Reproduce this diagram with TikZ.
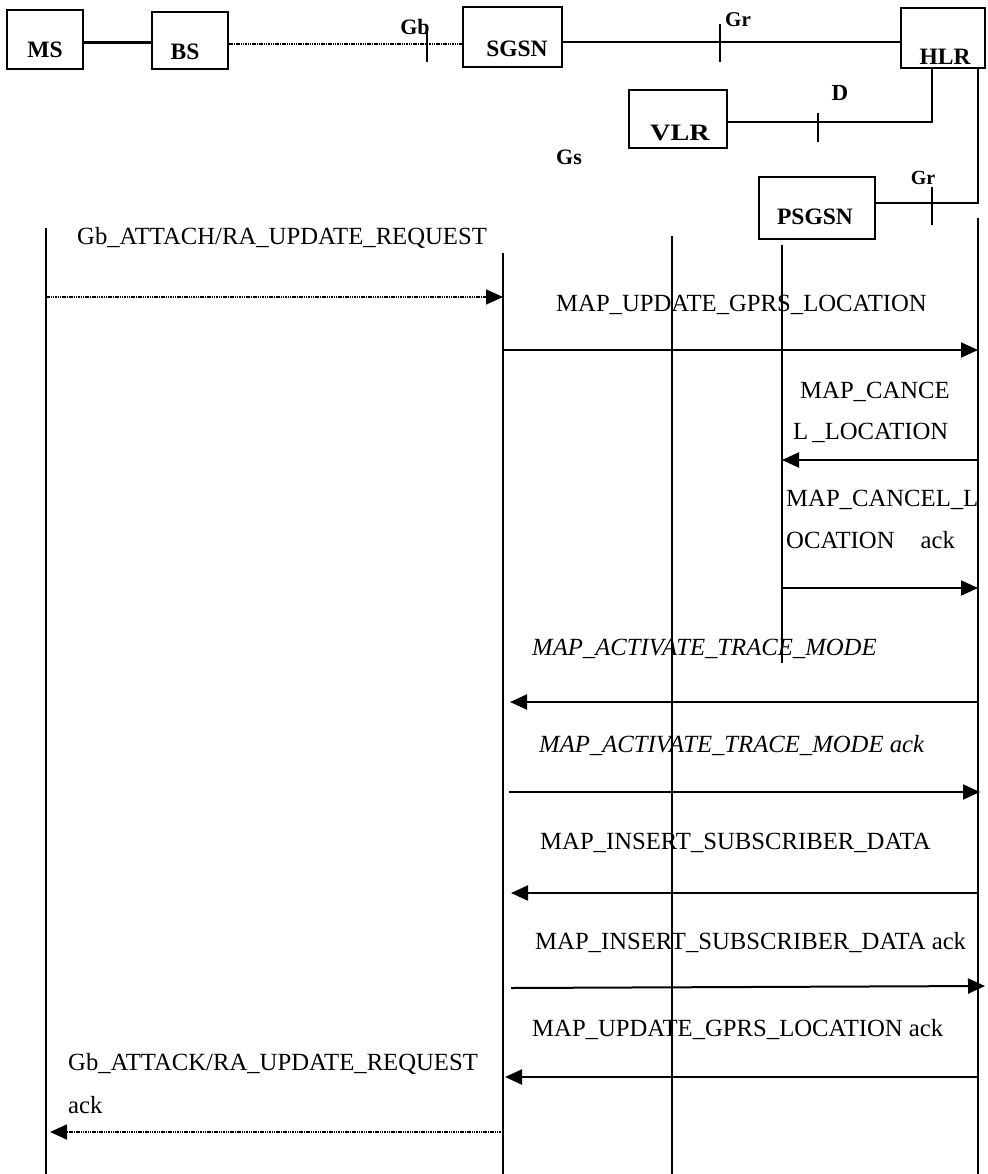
\documentclass[tikz,border=0pt]{standalone}
\usepackage{fontspec}
\setmainfont{Liberation Serif}
\usetikzlibrary{arrows.meta}
\begin{document}
\begin{tikzpicture}[x=1pt,y=-1pt,
  ent/.style={draw, line width=2.3pt, inner sep=0pt},
  enttxt/.style={inner sep=0pt, font=\fontsize{23.5}{26}\selectfont\bfseries},
  iflbl/.style={inner sep=0pt, font=\fontsize{21}{23}\selectfont\bfseries},
  link/.style={line width=2pt},
  tick/.style={line width=2pt},
  life/.style={line width=2pt},
  msgtxt/.style={inner sep=0pt, anchor=west, font=\fontsize{24.7}{28}\selectfont},
  msgit/.style={inner sep=0pt, anchor=west, font=\fontsize{24.7}{28}\selectfont\itshape},
  msg/.style={line width=2pt, -{Triangle[length=17pt,width=15pt]}},
  dmsg/.style={line width=1.6pt, dash pattern=on 1.5pt off 0.8pt, -{Triangle[length=17pt,width=15pt]}}
]
\useasboundingbox (0,0) rectangle (987,1174);
% entity boxes
\node[ent, minimum width=76pt, minimum height=59pt] (ms) at (45,39.5) {};
\node[enttxt] (mst) at (45,50) {MS};
\node[ent, minimum width=76pt, minimum height=57pt] (bs) at (190,40.5) {};
\node[enttxt] (bst) at (185,52) {BS};
\node[ent, minimum width=99pt, minimum height=60pt] (sgsn) at (512.5,37) {};
\node[enttxt] (sgsnt) at (517,49) {SGSN};
\node[ent, line width=1.8pt, minimum width=84pt, minimum height=60pt] (hlr) at (943,38) {};
\node[enttxt] (hlrt) at (945,57) {HLR};
\node[ent, minimum width=98pt, minimum height=58pt] (vlr) at (678,119) {};
\node[enttxt, xscale=1.2] (vlrt) at (680,133) {VLR};
\node[ent, minimum width=116pt, minimum height=62pt] (psgsn) at (817,208) {};
\node[enttxt] (psgsnt) at (815,217) {PSGSN};

% interface links
\draw[link, line width=3pt] (ms.east |- 0,43) -- (bs.west |- 0,43);
\draw[link, line width=1.6pt, dash pattern=on 1.5pt off 0.8pt] (bs.east |- 0,44) -- (sgsn.west |- 0,44);
\draw[tick] (427,30) -- (427,62);
\node[iflbl, font=\fontsize{22}{24}\selectfont\bfseries] (gb) at (415,27) {Gb};

\draw[link] (sgsn.east |- 0,42) -- (hlr.west |- 0,42);
\draw[tick] (720,24) -- (720,62);
\node[iflbl] (gr1) at (738,20) {Gr};

\coordinate (hd) at (932,68);
\coordinate (hdc) at (932,122);
\draw[link] (hd) -- (hdc) -- (vlr.east |- hdc);
\draw[tick] (818,113) -- (818,142);
\node[iflbl, font=\fontsize{23}{25}\selectfont\bfseries] (d) at (840,93) {D};

\coordinate (hp) at (978,68);
\coordinate (hpc) at (978,203);
\draw[link] (hp) -- (hpc) -- (psgsn.east |- hpc);
\draw[tick] (932,187) -- (932,225);
\node[iflbl, font=\fontsize{20}{22}\selectfont\bfseries] (gr2) at (923,178) {Gr};

\node[iflbl, font=\fontsize{22}{24}\selectfont\bfseries] (gs) at (569,157) {Gs};

% lifelines
\coordinate (msL) at (46,228);   \coordinate (msB) at (46,1174);
\coordinate (sgL) at (503,253);  \coordinate (sgB) at (503,1174);
\coordinate (vlL) at (672,236);  \coordinate (vlB) at (672,1174);
\coordinate (psL) at (782,245);  \coordinate (psB) at (782,663);
\coordinate (hlL) at (978,218);  \coordinate (hlB) at (978,1174);
\draw[life] (msL) -- (msB);
\draw[life] (sgL) -- (sgB);
\draw[life] (vlL) -- (vlB);
\draw[life] (psL) -- (psB);
\draw[life] (hlL) -- (hlB);

% messages
\node[msgtxt] (t1) at (77,238) {Gb\_ATTACH/RA\_UPDATE\_REQUEST};
\draw[dmsg] (msL |- 0,297) -- (sgL |- 0,297);

\node[msgtxt] (t2) at (556,305) {MAP\_UPDATE\_GPRS\_LOCATION};
\draw[msg] (sgL |- 0,350) -- (hlL |- 0,350);

\node[msgtxt] (t3a) at (800,392) {MAP\_CANCE};
\node[msgtxt] (t3b) at (793,433) {L\,\_LOCATION};
\draw[msg] (hlL |- 0,460) -- (psL |- 0,460);

\node[msgtxt] (t4a) at (786,500) {MAP\_CANCEL\_L};
\node[msgtxt] (t4b) at (786,540) {OCATION\hspace{26pt}ack};
\draw[msg] (psL |- 0,588) -- (hlL |- 0,588);

\node[msgit] (t5) at (532,649) {MAP\_ACTIVATE\_TRACE\_MODE};
\draw[msg] (hlL |- 0,702) -- ([xshift=7pt]sgL |- 0,702);

\node[msgit] (t6) at (539,746) {MAP\_ACTIVATE\_TRACE\_MODE ack};
\draw[msg] ([xshift=6pt]sgL |- 0,792) -- ([xshift=2pt]hlL |- 0,792);

\node[msgtxt] (t7) at (540,843) {MAP\_INSERT\_SUBSCRIBER\_DATA};
\draw[msg] (hlL |- 0,893) -- ([xshift=8pt]sgL |- 0,893);

\node[msgtxt] (t8) at (535,943) {MAP\_INSERT\_SUBSCRIBER\_DATA ack};
\draw[msg] ([xshift=8pt]sgL |- 0,988) -- ([xshift=7pt]hlL |- 0,986);

\node[msgtxt] (t9) at (532,1030) {MAP\_UPDATE\_GPRS\_LOCATION ack};
\draw[msg] (hlL |- 0,1077) -- ([xshift=2pt]sgL |- 0,1077);

\node[msgtxt] (t10a) at (68,1064) {Gb\_ATTACK/RA\_UPDATE\_REQUEST};
\node[msgtxt] (t10b) at (68,1105) {ack};
\draw[dmsg] (sgL |- 0,1132) -- ([xshift=4pt]msL |- 0,1132);
\end{tikzpicture}
\end{document}
